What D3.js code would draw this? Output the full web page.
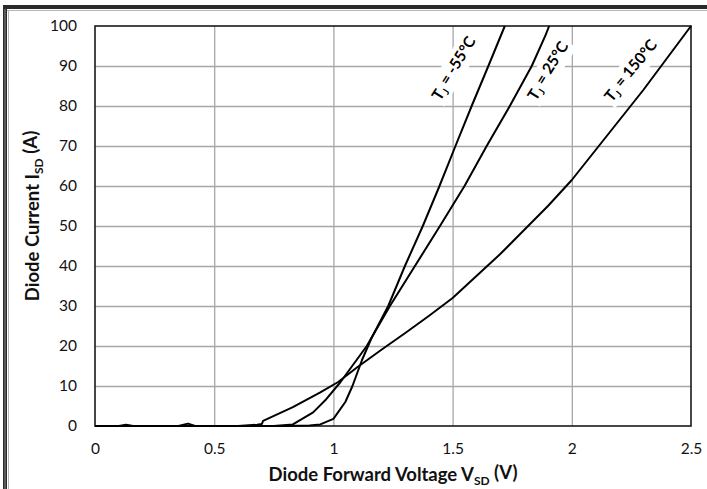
<!DOCTYPE html>
<html>
<head>
<meta charset="utf-8">
<script src="https://cdn.jsdelivr.net/npm/d3@7"></script>
<style>
  html, body { margin: 0; padding: 0; background: #ffffff; }
  svg { display: block; }
  text { font-family: Lato, "Open Sans", "Liberation Sans", sans-serif; }
</style>
</head>
<body>
<svg id="chart" width="707" height="489"></svg>
<script>
// ---- Data ----
const xTicks = [0, 0.5, 1, 1.5, 2, 2.5];
const xTickLabels = ["0", "0.5", "1", "1.5", "2", "2.5"];
const yTicks = [0, 10, 20, 30, 40, 50, 60, 70, 80, 90, 100];
const yTickLabels = ["0", "10", "20", "30", "40", "50", "60", "70", "80", "90", "100"];

const seriesNames = ["-55°C", "25°C", "150°C"];

const voltageM55 = [0, 0.1, 0.2, 0.3, 0.4, 0.5, 0.6, 0.7, 0.8, 0.9, 0.945, 1.0, 1.05, 1.08, 1.12, 1.16, 1.23, 1.30, 1.375, 1.445, 1.512, 1.58, 1.65, 1.719];
const currentM55 = [0, 0, 0, 0, 0, 0, 0, 0, 0, 0.1, 0.4, 1.8, 6, 10, 16.5, 22, 30, 40, 50, 60, 70, 80, 90, 100];

const voltage25 = [0, 0.2, 0.4, 0.6, 0.75, 0.83, 0.915, 0.97, 1.03, 1.14, 1.237, 1.342, 1.447, 1.55, 1.643, 1.74, 1.832, 1.89, 1.905];
const current25 = [0, 0, 0, 0, 0, 0.4, 3.4, 6.7, 11, 20, 30, 40, 50, 60, 70, 80, 90, 97.7, 100];

const voltage150 = [0, 0.1, 0.13, 0.16, 0.35, 0.39, 0.42, 0.6, 0.68, 0.70, 0.705, 0.83, 0.945, 1.02, 1.1, 1.2, 1.3, 1.4, 1.5, 1.6, 1.7, 1.8, 1.9, 2.0, 2.1, 2.2, 2.3, 2.4, 2.5];
const current150 = [0, 0, 0.3, 0, 0, 0.6, 0, 0, 0.3, 0.5, 1.3, 4.7, 8.4, 11, 14.7, 19, 23.2, 27.5, 32, 37.5, 43, 49, 55, 61.5, 69, 76.5, 84, 92, 100];

const xTitle = "Diode Forward Voltage V";
const yTitle = "Diode Current I";

// ---- Layout ----
const svg = d3.select("#chart");
const W = 707, H = 489;
const plot = { left: 95, right: 691, top: 26, bottom: 426 };

const x = d3.scaleLinear().domain([0, 2.5]).range([plot.left, plot.right]);
const y = d3.scaleLinear().domain([0, 100]).range([plot.bottom, plot.top]);

// outer frame (only left and top edges are visible in the picture)
svg.append("rect").attr("x", 0).attr("y", 0).attr("width", W).attr("height", H).attr("fill", "#ffffff");
svg.append("rect").attr("x", 3).attr("y", 5).attr("width", 4).attr("height", H - 5).attr("fill", "#2a2a2a");
svg.append("rect").attr("x", 4.5).attr("y", 9).attr("width", 1).attr("height", H - 9).attr("fill", "#8a8a8a");
svg.append("rect").attr("x", 3).attr("y", 5).attr("width", W - 3).attr("height", 4).attr("fill", "#2a2a2a");
svg.append("line").attr("x1", 7).attr("x2", W).attr("y1", 10.5).attr("y2", 10.5)
  .attr("stroke", "#b5b5b5").attr("stroke-width", 1);
svg.append("line").attr("x1", 8.5).attr("x2", 8.5).attr("y1", 10).attr("y2", H)
  .attr("stroke", "#b5b5b5").attr("stroke-width", 1);

// gridlines
const gGridY = svg.append("g").attr("transform", `translate(${plot.left},0)`)
  .call(d3.axisLeft(y).tickValues(yTicks.slice(1, -1)).tickSize(-(plot.right - plot.left)).tickFormat(""));
gGridY.select(".domain").remove();
gGridY.selectAll("line").attr("stroke", "#a6a6a6").attr("stroke-width", 1.3);

const gGridX = svg.append("g").attr("transform", `translate(0,${plot.bottom})`)
  .call(d3.axisBottom(x).tickValues(xTicks.slice(1, -1)).tickSize(-(plot.bottom - plot.top)).tickFormat(""));
gGridX.select(".domain").remove();
gGridX.selectAll("line").attr("stroke", "#a6a6a6").attr("stroke-width", 1.3);

// plot border
svg.append("rect").attr("x", plot.left).attr("y", plot.top)
  .attr("width", plot.right - plot.left).attr("height", plot.bottom - plot.top)
  .attr("fill", "none").attr("stroke", "#1a1a1a").attr("stroke-width", 1.6);

// axes labels
const gY = svg.append("g").attr("transform", `translate(${plot.left},0)`)
  .call(d3.axisLeft(y).tickValues(yTicks).tickSize(0).tickPadding(18)
    .tickFormat((d, i) => yTickLabels[i]));
gY.select(".domain").remove();
gY.selectAll("text").attr("font-size", 15.5).attr("fill", "#111").attr("font-family", "Lato, 'Open Sans', sans-serif");

const gX = svg.append("g").attr("transform", `translate(0,${plot.bottom})`)
  .call(d3.axisBottom(x).tickValues(xTicks).tickSize(0).tickPadding(17)
    .tickFormat((d, i) => xTickLabels[i]));
gX.select(".domain").remove();
gX.selectAll("text").attr("font-size", 15.5).attr("fill", "#111").attr("font-family", "Lato, 'Open Sans', sans-serif");

// curves
const line = d3.line().x(d => x(d[0])).y(d => y(d[1]));
const series = [
  d3.zip(voltageM55, currentM55),
  d3.zip(voltage25, current25),
  d3.zip(voltage150, current150)
];
svg.append("g").selectAll("path").data(series).join("path")
  .attr("d", line).attr("fill", "none").attr("stroke", "#000")
  .attr("stroke-width", 2).attr("stroke-linejoin", "round");

// curve labels (rotated, white background)
const labelPos = [
  { v: 1.51, i: 89.2, angle: -58 },
  { v: 1.905, i: 88.6, angle: -58 },
  { v: 2.252, i: 88.6, angle: -50 }
];
labelPos.forEach((p, k) => {
  const g = svg.append("g").attr("transform", `translate(${x(p.v)},${y(p.i)}) rotate(${p.angle})`);
  const t = g.append("text").attr("text-anchor", "middle").attr("dy", "0.3em")
    .attr("font-size", 15.5).attr("font-weight", "bold").attr("fill", "#000");
  t.append("tspan").text("T");
  t.append("tspan").attr("font-size", 10).attr("dy", "0.3em").text("J");
  t.append("tspan").attr("dy", "-0.3em").text("\u00a0= " + seriesNames[k]);
  const bb = t.node().getBBox();
  g.insert("rect", "text").attr("x", bb.x - 2).attr("y", bb.y - 1)
    .attr("width", bb.width + 4).attr("height", bb.height + 2).attr("fill", "#fff");
});

// axis titles
const xt = svg.append("text").attr("x", 393).attr("y", 481)
  .attr("text-anchor", "middle").attr("font-size", 18.5).attr("font-weight", "bold").attr("fill", "#111");
xt.append("tspan").text(xTitle);
xt.append("tspan").attr("font-size", 12).attr("dy", "0.3em").text("SD");
xt.append("tspan").attr("dy", "-0.3em").text(" (V)");

const yt = svg.append("text").attr("transform", `translate(39,216) rotate(-90)`)
  .attr("text-anchor", "middle").attr("font-size", 18.5).attr("font-weight", "bold").attr("fill", "#111");
yt.append("tspan").text(yTitle);
yt.append("tspan").attr("font-size", 12).attr("dy", "0.3em").text("SD");
yt.append("tspan").attr("dy", "-0.3em").text(" (A)");
</script>
</body>
</html>
